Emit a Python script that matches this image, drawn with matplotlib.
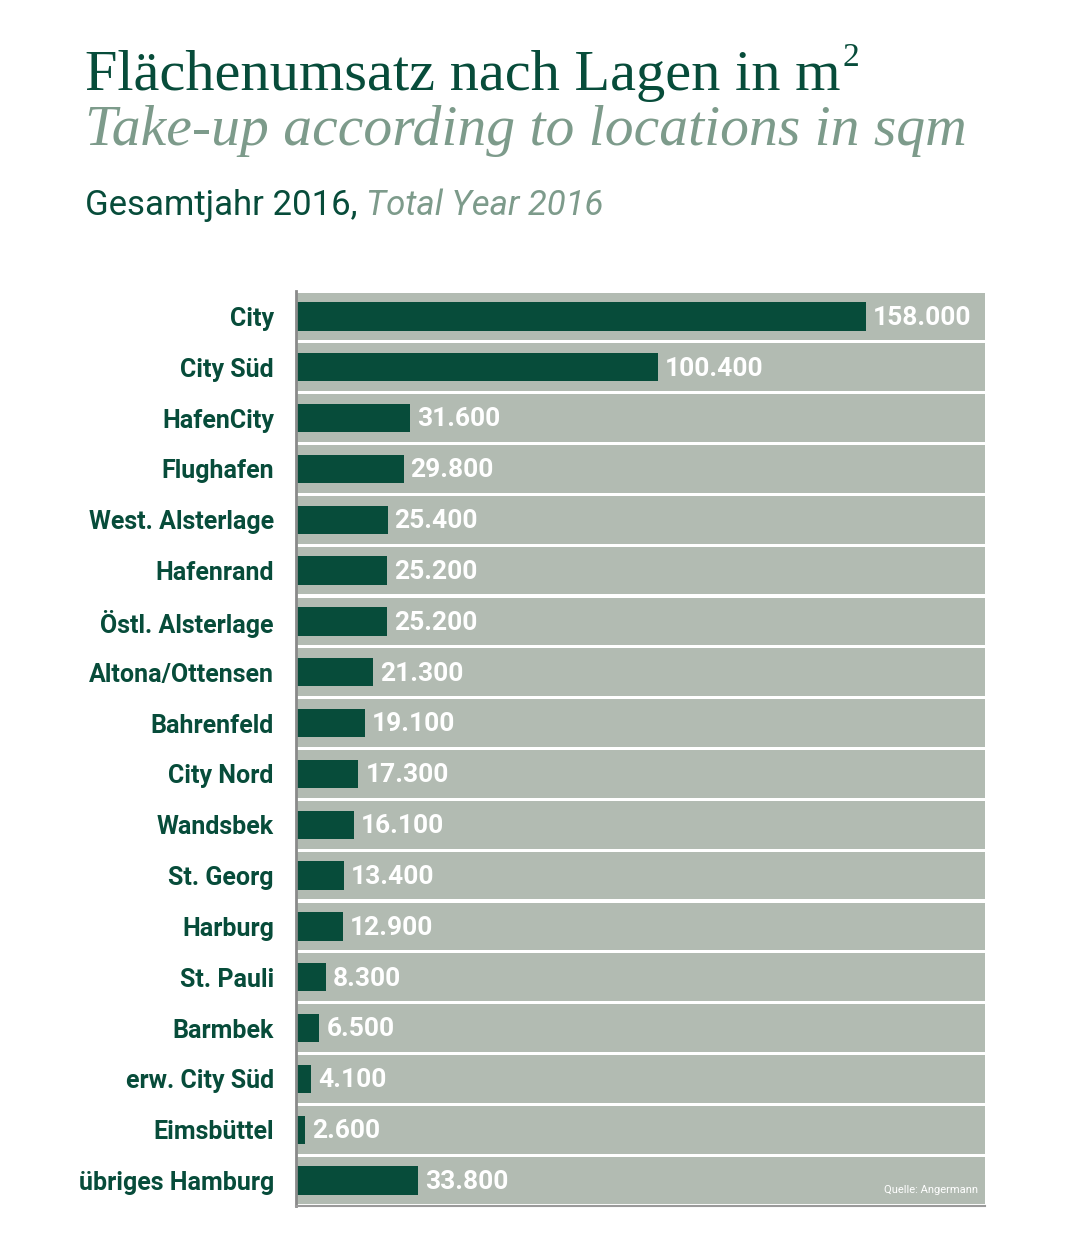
import matplotlib
matplotlib.use('Agg')
import matplotlib.pyplot as plt

locations = ['City', 'City Süd', 'HafenCity', 'Flughafen', 'West. Alsterlage', 'Hafenrand',
             'Östl. Alsterlage', 'Altona/Ottensen', 'Bahrenfeld', 'City Nord', 'Wandsbek',
             'St. Georg', 'Harburg', 'St. Pauli', 'Barmbek', 'erw. City Süd', 'Eimsbüttel',
             'übriges Hamburg']
takeup = [158000, 100400, 31600, 29800, 25400, 25200, 25200, 21300, 19100, 17300, 16100,
          13400, 12900, 8300, 6500, 4100, 2600, 33800]

dark = '#074c3a'
band = '#b2bbb2'
sub = '#7d9b8b'
sans = ['Roboto', 'DejaVu Sans']
serif = 'Liberation Serif'

fig = plt.figure(figsize=(10.7, 12.54), dpi=100)
ax = fig.add_axes([296 / 1070, 1 - 1206 / 1254, 689 / 1070, 915 / 1254])

y = list(range(len(locations)))
xmax = 190900
ax.barh(y, [xmax] * len(y), height=0.94, color=band, zorder=1)
ax.barh(y, takeup, height=0.56, color=dark, zorder=2)
for yi, v in zip(y, takeup):
    ax.annotate(f'{v:,}'.replace(',', '.'), (v, yi), xytext=(5, -1), textcoords='offset points',
                ha='left', va='center', color='white', fontsize=19, fontweight='bold',
                family=sans, zorder=3)

ax.set_xlim(0, xmax)
ax.set_ylim(len(y) - 0.5, -0.5)
ax.set_yticks(y)
ax.set_yticklabels(locations, fontsize=18, fontweight='bold', color=dark, family=sans)
ax.tick_params(axis='y', length=0, pad=16)
ax.set_xticks([])
for s in ['top', 'right']:
    ax.spines[s].set_visible(False)
ax.spines['left'].set_color('#8a8a8a')
ax.spines['left'].set_linewidth(2)
ax.spines['bottom'].set_color('#9a9a9a')
ax.spines['bottom'].set_linewidth(1.5)

ax.text(0.99, 0.012, 'Quelle: Angermann', transform=ax.transAxes, ha='right', va='bottom',
        color='white', fontsize=8, family=sans, zorder=3)

# Titel
t0 = fig.text(85 / 1070, 1 - 90 / 1254, 'Flächenumsatz nach Lagen in m', color=dark,
              fontsize=42, family=serif, va='baseline')
fig.text(85 / 1070, 1 - 145 / 1254, 'Take-up according to locations in sqm', color=sub,
         fontsize=41.5, family=serif, style='italic', va='baseline')
t1 = fig.text(85 / 1070, 1 - 215 / 1254, 'Gesamtjahr 2016, ', color=dark,
              fontsize=25, family=sans, va='baseline')
fig.canvas.draw()
bb0 = t0.get_window_extent()
fig.text(bb0.x1 / fig.bbox.width + 0.002, 1 - 66 / 1254, '2', color=dark,
         fontsize=24, family=serif, va='baseline')
bb = t1.get_window_extent()
fig.text(bb.x1 / fig.bbox.width, 1 - 215 / 1254, 'Total Year 2016', color=sub,
         fontsize=25, family=sans, style='italic', va='baseline')

fig.savefig('out.png', dpi=100, facecolor='white')
